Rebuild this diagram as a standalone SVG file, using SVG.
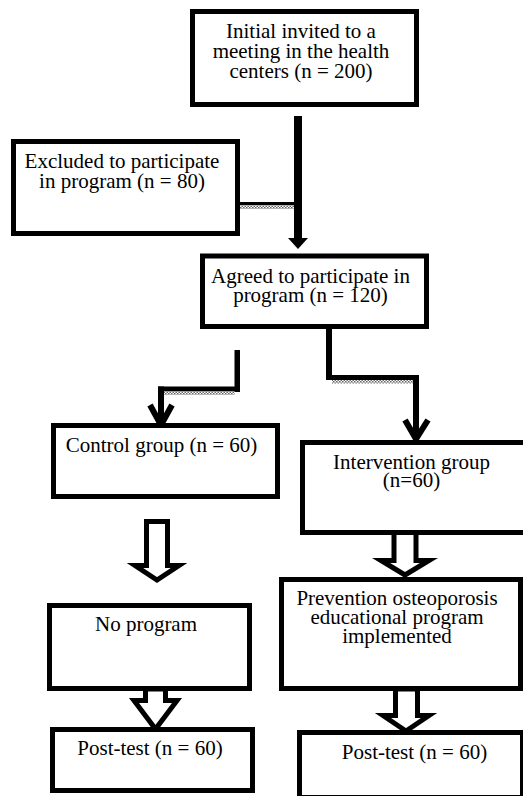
<svg xmlns="http://www.w3.org/2000/svg" width="523" height="796" viewBox="0 0 523 796">
<style>
.box{fill:#fff;stroke:#000;stroke-width:5}
.t{font-family:"Liberation Serif","Times New Roman",serif;font-size:21px;fill:#000;text-anchor:middle}
.bar{fill:#000}
.hatch{fill:url(#hp)}
.chev{fill:none;stroke:#000;stroke-width:6;stroke-linejoin:miter}
.hollow{fill:#fff;stroke:#000;stroke-width:5;stroke-linejoin:miter;stroke-miterlimit:10}
</style>
<defs>
<pattern id="hp" width="3" height="3" patternUnits="userSpaceOnUse">
<rect width="3" height="3" fill="#fff"/>
<rect width="1.5" height="1.5" fill="#666"/>
<rect x="1.5" y="1.5" width="1.5" height="1.5" fill="#666"/>
</pattern>
</defs>
<rect width="523" height="796" fill="#fff"/>
<g id="connectors">
<rect class="bar" x="294" y="116" width="8" height="123"/>
<polygon class="bar" points="288,238 308,238 298,249"/>
<rect class="bar" x="240" y="202" width="54" height="3"/>
<rect class="hatch" x="240" y="205" width="54" height="4"/>
<rect class="bar" x="234.5" y="350" width="5.5" height="42"/>
<rect class="bar" x="158" y="386.5" width="82" height="5"/>
<rect class="hatch" x="164" y="391.5" width="70.5" height="3.5"/>
<rect class="bar" x="158" y="386.5" width="6" height="38"/>
<polyline class="chev" points="150,405 161,425 172,405"/>
<rect class="bar" x="326" y="328" width="6" height="52"/>
<rect class="bar" x="326" y="375" width="93" height="5"/>
<rect class="hatch" x="332" y="380" width="81" height="3.5"/>
<rect class="bar" x="413" y="375" width="6" height="63"/>
<polyline class="chev" points="405,420 416,439 428,420"/>
<polygon class="hollow" points="146.5,521.5 167.5,521.5 167.5,565.5 179,565.5 157,580 135,565.5 146.5,565.5"/>
<polygon class="hollow" points="145.5,689 165.5,689 165.5,700.5 177,700.5 155.5,729 134,700.5 145.5,700.5"/>
<polygon class="hollow" points="394,532 416,532 416,560.5 429,560.5 405,575 381,560.5 394,560.5"/>
<polygon class="hollow" points="395.5,689 417.5,689 417.5,715.5 429,715.5 406,731 383,715.5 395.5,715.5"/>
</g>
<g id="invited">
<rect class="box" x="192.5" y="11.5" width="224" height="93"/>
<text class="t" x="301" y="38.3"><tspan x="301">Initial invited to a</tspan><tspan x="301" dy="19.9">meeting in the health</tspan><tspan x="301" dy="19.6">centers (n = 200)</tspan></text>
</g>
<g id="excluded">
<rect class="box" x="13.5" y="141.5" width="224" height="92"/>
<text class="t" x="122" y="168.3"><tspan x="122">Excluded to participate</tspan><tspan x="122" dy="19.4">in program (n = 80)</tspan></text>
</g>
<g id="agreed">
<rect class="box" x="202.5" y="256" width="224" height="70.5"/>
<text class="t" x="310.5" y="282.5"><tspan x="310.5">Agreed to participate in</tspan><tspan x="310.5" dy="19">program (n = 120)</tspan></text>
</g>
<g id="control">
<rect class="box" x="53.5" y="425.5" width="224" height="71"/>
<text class="t" x="161.5" y="451.7">Control group (n = 60)</text>
</g>
<g id="intervention">
<rect class="box" x="302.5" y="442.5" width="230" height="90"/>
<text class="t" x="411.5" y="468.5"><tspan x="411.5">Intervention group</tspan><tspan x="411.5" dy="18.5">(n=60)</tspan></text>
</g>
<g id="noprogram">
<rect class="box" x="49.5" y="605.5" width="200" height="83"/>
<text class="t" x="146" y="630.7">No program</text>
</g>
<g id="prevention">
<rect class="box" x="281.5" y="579.5" width="239" height="109"/>
<text class="t" x="397" y="605"><tspan x="397">Prevention osteoporosis</tspan><tspan x="397" dy="19">educational program</tspan><tspan x="397" dy="18.7">implemented</tspan></text>
</g>
<g id="posttest-control">
<rect class="box" x="52.5" y="729.5" width="200" height="61"/>
<text class="t" x="150" y="755">Post-test (n = 60)</text>
</g>
<g id="posttest-intervention">
<rect class="box" x="299.5" y="732.5" width="223" height="65"/>
<text class="t" x="414.5" y="759">Post-test (n = 60)</text>
</g>
</svg>
